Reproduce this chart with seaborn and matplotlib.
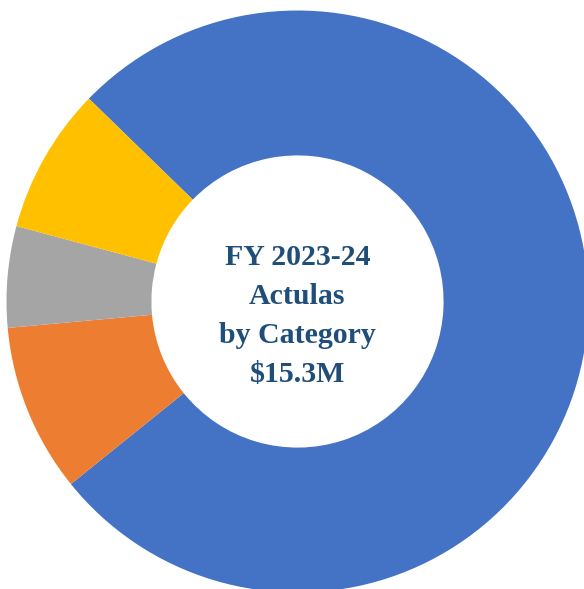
import numpy as np
import matplotlib
matplotlib.use('Agg')
import matplotlib.pyplot as plt
import seaborn as sns

# ─────────────────────────────────────────
# Data — FY 2023-24 actuals by category ($M)
# ─────────────────────────────────────────
categories = ['Category A', 'Category B', 'Category C', 'Category D']
actuals_m  = [11.77, 1.43, 0.86, 1.24]
colors     = ['#4472C4', '#ED7D31', '#A5A5A5', '#FFC000']
center_text = 'FY 2023-24\nActulas\nby Category\n$15.3M'

sns.set_theme(style='white')
plt.rcParams['font.family'] = ['Liberation Serif', 'DejaVu Serif']

fig = plt.figure(figsize=(5.84, 5.89), dpi=100)
ax = fig.add_axes([0, 0, 1, 1])

ax.pie(
    actuals_m,
    colors=colors,
    startangle=135.8,
    counterclock=False,
    radius=1.0,
    wedgeprops=dict(width=0.498, linewidth=0),
)

ax.text(0, -0.05, center_text,
        ha='center', va='center',
        fontsize=21.5, fontweight='bold',
        color='#1F4E79', linespacing=1.58)

# place the donut like the original (centre ~ (297, 301) px, r ~ 291 px)
ax.set_xlim(-1.0223, 0.9845)
ax.set_ylim(-0.988, 1.0361)
ax.set_aspect('equal')
ax.axis('off')

fig.savefig('out.png', dpi=100, facecolor='white')
